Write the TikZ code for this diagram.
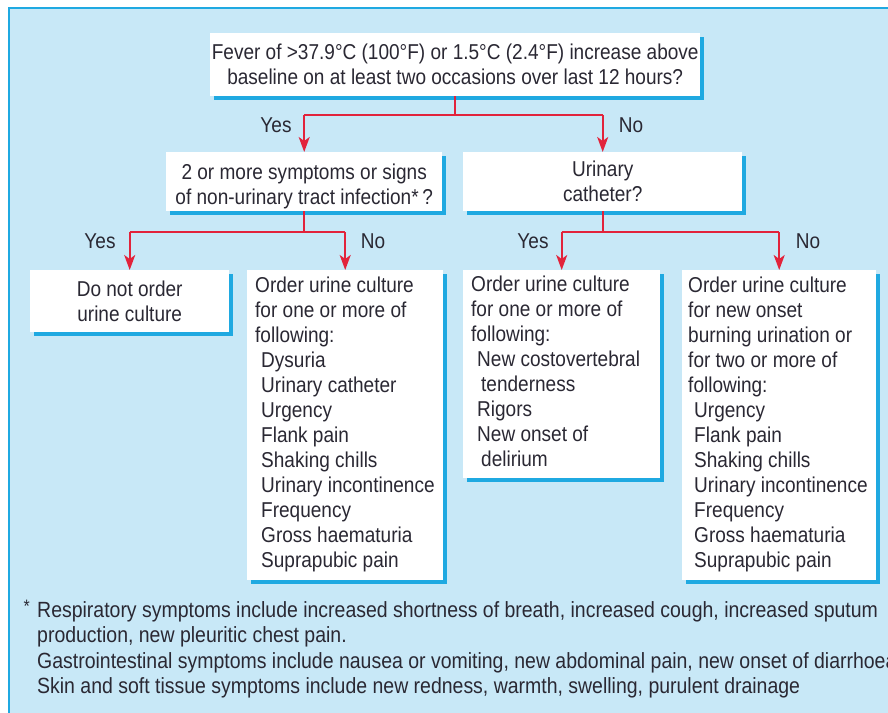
\documentclass[tikz,border=0pt]{standalone}
\usepackage{fontspec}
\setmainfont{Liberation Sans}[FakeStretch=0.885]
\usetikzlibrary{arrows.meta,shadows,calc}
\definecolor{bgblue}{HTML}{C8E8F7}
\definecolor{shblue}{HTML}{1FA9E1}
\definecolor{arrred}{HTML}{E2233B}
\definecolor{txtc}{HTML}{2A2833}
\newcommand{\ind}{\hspace*{6pt}}
\newcommand{\indd}{\hspace*{10pt}}
\begin{document}
\begin{tikzpicture}[x=1pt,y=1pt,
  font=\fontsize{21.5}{25}\selectfont,
  every node/.style={text=txtc},
  box/.style={fill=white, inner xsep=4pt, inner ysep=0pt, anchor=north west,
    drop shadow={shadow xshift=4pt, shadow yshift=-4pt, fill=shblue, opacity=1}},
  cbox/.style={box, align=center},
  conn/.style={draw=arrred, line width=2pt},
  arr/.style={conn, -{Stealth[length=15pt,width=11pt,inset=4pt]}},
  lab/.style={inner sep=0pt}
]
\useasboundingbox (0,0) rectangle (888,-712);
\fill[white] (0,0) rectangle (888,-712);
\filldraw[fill=bgblue, draw=shblue, line width=2pt] (9,-8) rectangle (1000,-800);

% boxes
\node[cbox, inner xsep=0pt, minimum width=490pt, minimum height=63pt] (top) at (210,-33)
  {Fever of >37.9\textdegree C (100\textdegree F) or 1.5\textdegree C (2.4\textdegree F) increase above\\baseline on at least two occasions over last 12 hours?};
\node[cbox, minimum width=276pt, minimum height=59pt, text depth=0pt] (q1) at (166,-152)
  {\rule{0pt}{20pt}2 or more symptoms or signs\\of non-urinary tract infection*\,?};
\node[cbox, minimum width=279pt, minimum height=59pt] (q2) at (463,-152)
  {Urinary\\catheter?};
\node[cbox, minimum width=199pt, minimum height=62pt] (a) at (30,-270)
  {Do not order\\urine culture};
\node[box, inner xsep=0pt, minimum width=196pt, minimum height=310pt] (b) at (247,-270)
  {\makebox[196pt][l]{\hspace*{8pt}\begin{tabular}{@{}l@{}}
   Order urine culture\\ for one or more of\\ following:\\
   \ind Dysuria\\ \ind Urinary catheter\\ \ind Urgency\\ \ind Flank pain\\
   \ind Shaking chills\\ \ind Urinary incontinence\\ \ind Frequency\\
   \ind Gross haematuria\\ \ind Suprapubic pain\end{tabular}}};
\node[box, inner xsep=0pt, minimum width=197pt, minimum height=208pt] (c) at (463,-270)
  {\makebox[197pt][l]{\hspace*{8pt}\begin{tabular}{@{}l@{}}
   Order urine culture\\ for one or more of\\ following:\\
   \ind New costovertebral\\ \indd tenderness\\ \ind Rigors\\
   \ind New onset of\\ \indd delirium\end{tabular}}};
\node[box, inner xsep=0pt, minimum width=194pt, minimum height=310pt] (d) at (682,-270)
  {\makebox[194pt][l]{\hspace*{6pt}\begin{tabular}{@{}l@{}}
   Order urine culture\\ for new onset\\ burning urination or\\ for two or more of\\ following:\\
   \ind Urgency\\ \ind Flank pain\\
   \ind Shaking chills\\ \ind Urinary incontinence\\ \ind Frequency\\
   \ind Gross haematuria\\ \ind Suprapubic pain\end{tabular}}};

% connectors
\coordinate (j0) at ($(top.south)+(0,-19)$);
\coordinate (j1) at ($(q1.south)+(0,-21)$);
\coordinate (j2) at ($(q2.south)+(0,-21)$);
\draw[conn] (top.south) -- (j0);
\draw[conn] (q1 |- j0) -- (q2 |- j0);
\draw[arr] (q1 |- j0) -- (q1.north);
\draw[arr] (q2 |- j0) -- (q2.north);
\draw[conn] (q1.south) -- (j1);
\draw[conn] (a |- j1) -- (b |- j1);
\draw[arr] (a |- j1) -- (a.north);
\draw[arr] (b |- j1) -- (b.north);
\draw[conn] (q2.south) -- (j2);
\draw[conn] (c |- j2) -- (d |- j2);
\draw[arr] (c |- j2) -- (c.north);
\draw[arr] (d |- j2) -- (d.north);

% labels
\node[lab] (l1) at (276,-125) {Yes};
\node[lab] (l2) at (631,-125) {No};
\node[lab] (l3) at (100,-241) {Yes};
\node[lab] (l4) at (373,-241) {No};
\node[lab] (l5) at (533,-241) {Yes};
\node[lab] (l6) at (808,-241) {No};

% footnote
\node[lab, anchor=north east, font=\fontsize{18}{20}\selectfont] (star) at (30,-600) {*};
\node[lab, anchor=north west, font=\fontsize{22}{25.6}\selectfont] (fn) at (37,-599)
  {\begin{tabular}{@{}l@{}}
   Respiratory symptoms include increased shortness of breath, increased cough, increased sputum\\
   production, new pleuritic chest pain.\\
   Gastrointestinal symptoms include nausea or vomiting, new abdominal pain, new onset of diarrhoea\\
   Skin and soft tissue symptoms include new redness, warmth, swelling, purulent drainage
   \end{tabular}};
\end{tikzpicture}
\end{document}
